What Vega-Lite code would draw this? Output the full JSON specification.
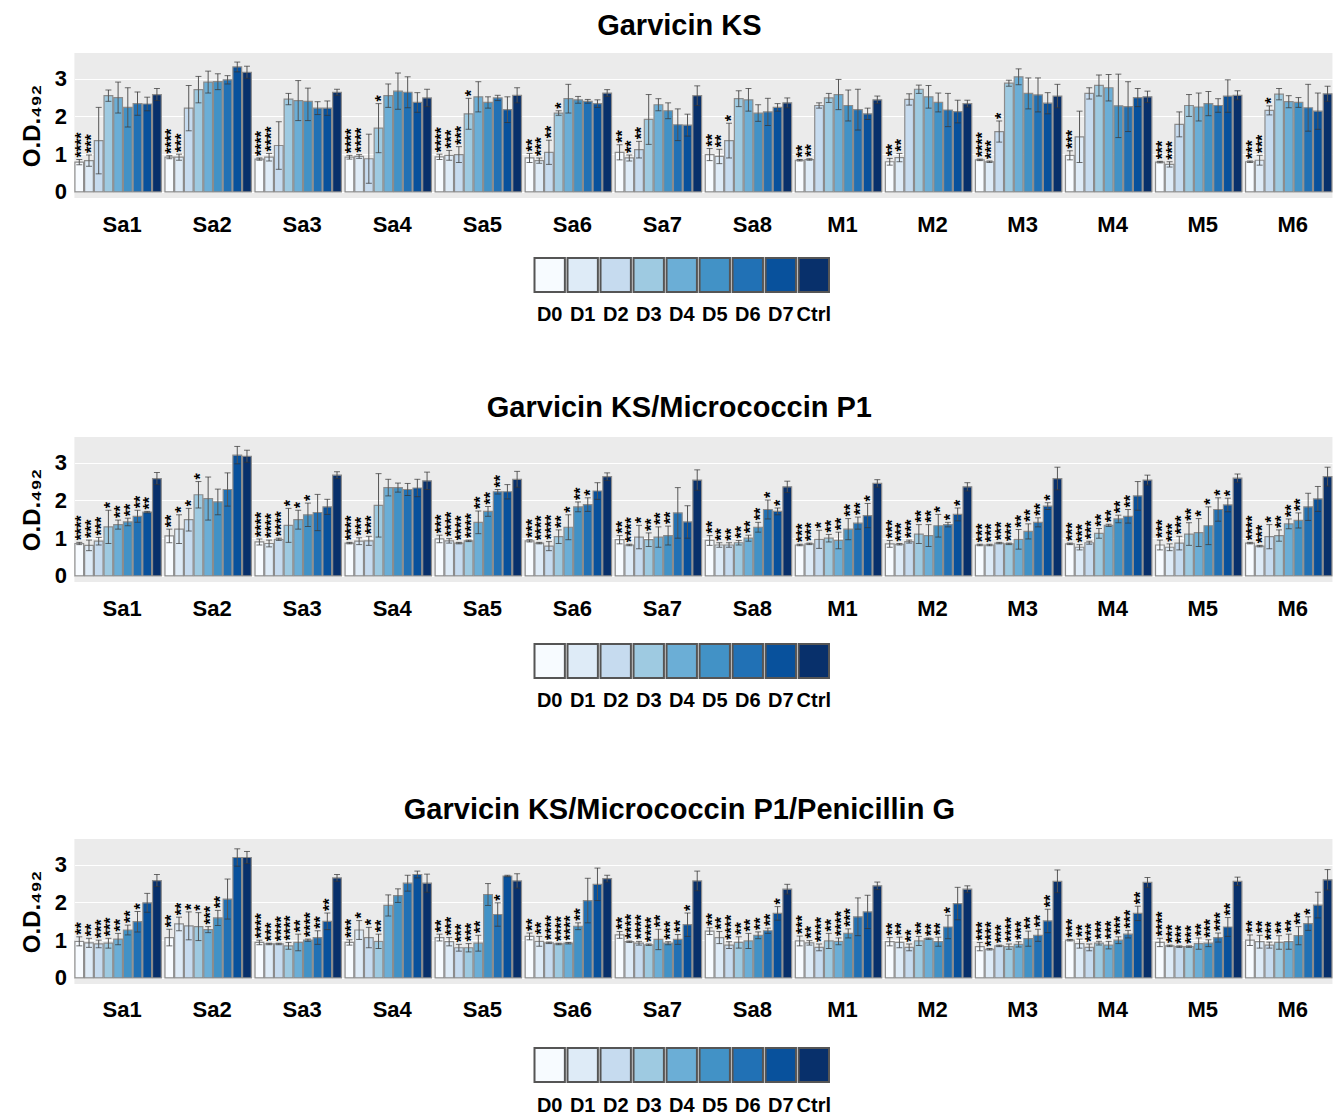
{
  "$schema": "https://vega.github.io/schema/vega-lite/v6.json",
  "padding": {"left": 20, "top": 12, "right": 0, "bottom": 0},
  "background": "#ffffff",
  "config": {
    "font": "Liberation Sans",
    "title": {"fontSize": 29, "fontWeight": "bold", "color": "#000000", "anchor": "middle", "frame": "bounds"},
    "axis": {"labelColor": "#000000", "titleColor": "#000000", "labelFontWeight": "bold", "titleFontWeight": "bold"}
  },
  "datasets": {
    "lg": [{"d":"D0"},{"d":"D1"},{"d":"D2"},{"d":"D3"},{"d":"D4"},{"d":"D5"},{"d":"D6"},{"d":"D7"},{"d":"Ctrl"}],
    "p1": [
      {"g":"Sa1","d":"D0","v":0.79,"lo":0.72,"hi":0.86,"s":"****"},
      {"g":"Sa1","d":"D1","v":0.83,"lo":0.68,"hi":0.98,"s":"***"},
      {"g":"Sa1","d":"D2","v":1.36,"lo":0.48,"hi":2.24,"s":""},
      {"g":"Sa1","d":"D3","v":2.55,"lo":2.40,"hi":2.70,"s":""},
      {"g":"Sa1","d":"D4","v":2.50,"lo":2.09,"hi":2.91,"s":""},
      {"g":"Sa1","d":"D5","v":2.24,"lo":1.72,"hi":2.76,"s":""},
      {"g":"Sa1","d":"D6","v":2.34,"lo":2.03,"hi":2.65,"s":""},
      {"g":"Sa1","d":"D7","v":2.33,"lo":2.15,"hi":2.51,"s":""},
      {"g":"Sa1","d":"Ctrl","v":2.58,"lo":2.42,"hi":2.74,"s":""},
      {"g":"Sa2","d":"D0","v":0.92,"lo":0.88,"hi":0.96,"s":"****"},
      {"g":"Sa2","d":"D1","v":0.92,"lo":0.84,"hi":1.00,"s":"***"},
      {"g":"Sa2","d":"D2","v":2.22,"lo":1.62,"hi":2.82,"s":""},
      {"g":"Sa2","d":"D3","v":2.71,"lo":2.36,"hi":3.06,"s":""},
      {"g":"Sa2","d":"D4","v":2.91,"lo":2.62,"hi":3.20,"s":""},
      {"g":"Sa2","d":"D5","v":2.92,"lo":2.71,"hi":3.13,"s":""},
      {"g":"Sa2","d":"D6","v":2.97,"lo":2.86,"hi":3.08,"s":""},
      {"g":"Sa2","d":"D7","v":3.31,"lo":3.18,"hi":3.44,"s":""},
      {"g":"Sa2","d":"Ctrl","v":3.17,"lo":3.01,"hi":3.33,"s":""},
      {"g":"Sa3","d":"D0","v":0.87,"lo":0.84,"hi":0.90,"s":"****"},
      {"g":"Sa3","d":"D1","v":0.92,"lo":0.82,"hi":1.02,"s":"****"},
      {"g":"Sa3","d":"D2","v":1.23,"lo":0.60,"hi":1.86,"s":""},
      {"g":"Sa3","d":"D3","v":2.46,"lo":2.31,"hi":2.61,"s":""},
      {"g":"Sa3","d":"D4","v":2.42,"lo":1.89,"hi":2.95,"s":""},
      {"g":"Sa3","d":"D5","v":2.40,"lo":1.89,"hi":2.75,"s":""},
      {"g":"Sa3","d":"D6","v":2.22,"lo":2.05,"hi":2.39,"s":""},
      {"g":"Sa3","d":"D7","v":2.22,"lo":2.03,"hi":2.41,"s":""},
      {"g":"Sa3","d":"Ctrl","v":2.64,"lo":2.56,"hi":2.72,"s":""},
      {"g":"Sa4","d":"D0","v":0.92,"lo":0.87,"hi":0.97,"s":"****"},
      {"g":"Sa4","d":"D1","v":0.94,"lo":0.89,"hi":0.99,"s":"****"},
      {"g":"Sa4","d":"D2","v":0.88,"lo":0.23,"hi":1.53,"s":""},
      {"g":"Sa4","d":"D3","v":1.69,"lo":1.04,"hi":2.34,"s":"*"},
      {"g":"Sa4","d":"D4","v":2.55,"lo":2.24,"hi":2.86,"s":""},
      {"g":"Sa4","d":"D5","v":2.67,"lo":2.19,"hi":3.15,"s":""},
      {"g":"Sa4","d":"D6","v":2.64,"lo":2.23,"hi":3.05,"s":""},
      {"g":"Sa4","d":"D7","v":2.37,"lo":2.11,"hi":2.63,"s":""},
      {"g":"Sa4","d":"Ctrl","v":2.49,"lo":2.26,"hi":2.72,"s":""},
      {"g":"Sa5","d":"D0","v":0.93,"lo":0.86,"hi":1.00,"s":"****"},
      {"g":"Sa5","d":"D1","v":0.97,"lo":0.84,"hi":1.10,"s":"***"},
      {"g":"Sa5","d":"D2","v":0.99,"lo":0.78,"hi":1.20,"s":"***"},
      {"g":"Sa5","d":"D3","v":2.07,"lo":1.66,"hi":2.48,"s":"*"},
      {"g":"Sa5","d":"D4","v":2.52,"lo":2.12,"hi":2.92,"s":""},
      {"g":"Sa5","d":"D5","v":2.37,"lo":2.22,"hi":2.52,"s":""},
      {"g":"Sa5","d":"D6","v":2.49,"lo":2.42,"hi":2.56,"s":""},
      {"g":"Sa5","d":"D7","v":2.18,"lo":1.84,"hi":2.52,"s":""},
      {"g":"Sa5","d":"Ctrl","v":2.56,"lo":2.36,"hi":2.76,"s":""},
      {"g":"Sa6","d":"D0","v":0.90,"lo":0.78,"hi":1.02,"s":"**"},
      {"g":"Sa6","d":"D1","v":0.83,"lo":0.76,"hi":0.90,"s":"***"},
      {"g":"Sa6","d":"D2","v":1.05,"lo":0.73,"hi":1.37,"s":"**"},
      {"g":"Sa6","d":"D3","v":2.09,"lo":2.03,"hi":2.15,"s":"*"},
      {"g":"Sa6","d":"D4","v":2.47,"lo":2.09,"hi":2.85,"s":""},
      {"g":"Sa6","d":"D5","v":2.44,"lo":2.35,"hi":2.53,"s":""},
      {"g":"Sa6","d":"D6","v":2.40,"lo":2.35,"hi":2.45,"s":""},
      {"g":"Sa6","d":"D7","v":2.34,"lo":2.24,"hi":2.44,"s":""},
      {"g":"Sa6","d":"Ctrl","v":2.62,"lo":2.53,"hi":2.71,"s":""},
      {"g":"Sa7","d":"D0","v":1.05,"lo":0.85,"hi":1.25,"s":"**"},
      {"g":"Sa7","d":"D1","v":0.90,"lo":0.82,"hi":0.98,"s":"**"},
      {"g":"Sa7","d":"D2","v":1.12,"lo":0.90,"hi":1.34,"s":"**"},
      {"g":"Sa7","d":"D3","v":1.92,"lo":1.26,"hi":2.58,"s":""},
      {"g":"Sa7","d":"D4","v":2.31,"lo":2.15,"hi":2.47,"s":""},
      {"g":"Sa7","d":"D5","v":2.15,"lo":1.94,"hi":2.36,"s":""},
      {"g":"Sa7","d":"D6","v":1.78,"lo":1.36,"hi":2.20,"s":""},
      {"g":"Sa7","d":"D7","v":1.77,"lo":1.48,"hi":2.06,"s":""},
      {"g":"Sa7","d":"Ctrl","v":2.55,"lo":2.29,"hi":2.81,"s":""},
      {"g":"Sa8","d":"D0","v":0.99,"lo":0.83,"hi":1.15,"s":"**"},
      {"g":"Sa8","d":"D1","v":0.94,"lo":0.75,"hi":1.13,"s":"**"},
      {"g":"Sa8","d":"D2","v":1.36,"lo":0.90,"hi":1.82,"s":"*"},
      {"g":"Sa8","d":"D3","v":2.47,"lo":2.26,"hi":2.68,"s":""},
      {"g":"Sa8","d":"D4","v":2.44,"lo":2.14,"hi":2.74,"s":""},
      {"g":"Sa8","d":"D5","v":2.09,"lo":1.87,"hi":2.31,"s":""},
      {"g":"Sa8","d":"D6","v":2.12,"lo":1.76,"hi":2.48,"s":""},
      {"g":"Sa8","d":"D7","v":2.24,"lo":2.14,"hi":2.34,"s":""},
      {"g":"Sa8","d":"Ctrl","v":2.36,"lo":2.23,"hi":2.49,"s":""},
      {"g":"M1","d":"D0","v":0.84,"lo":0.82,"hi":0.86,"s":"**"},
      {"g":"M1","d":"D1","v":0.86,"lo":0.84,"hi":0.88,"s":"**"},
      {"g":"M1","d":"D2","v":2.29,"lo":2.22,"hi":2.36,"s":""},
      {"g":"M1","d":"D3","v":2.49,"lo":2.37,"hi":2.61,"s":""},
      {"g":"M1","d":"D4","v":2.58,"lo":2.18,"hi":2.98,"s":""},
      {"g":"M1","d":"D5","v":2.29,"lo":1.88,"hi":2.70,"s":""},
      {"g":"M1","d":"D6","v":2.18,"lo":1.64,"hi":2.72,"s":""},
      {"g":"M1","d":"D7","v":2.07,"lo":1.92,"hi":2.22,"s":""},
      {"g":"M1","d":"Ctrl","v":2.44,"lo":2.34,"hi":2.54,"s":""},
      {"g":"M2","d":"D0","v":0.80,"lo":0.71,"hi":0.89,"s":"**"},
      {"g":"M2","d":"D1","v":0.91,"lo":0.80,"hi":1.02,"s":"**"},
      {"g":"M2","d":"D2","v":2.45,"lo":2.30,"hi":2.60,"s":""},
      {"g":"M2","d":"D3","v":2.72,"lo":2.61,"hi":2.83,"s":""},
      {"g":"M2","d":"D4","v":2.52,"lo":2.22,"hi":2.82,"s":""},
      {"g":"M2","d":"D5","v":2.37,"lo":2.12,"hi":2.62,"s":""},
      {"g":"M2","d":"D6","v":2.17,"lo":1.73,"hi":2.61,"s":""},
      {"g":"M2","d":"D7","v":2.13,"lo":1.83,"hi":2.43,"s":""},
      {"g":"M2","d":"Ctrl","v":2.34,"lo":2.25,"hi":2.43,"s":""},
      {"g":"M3","d":"D0","v":0.85,"lo":0.83,"hi":0.87,"s":"****"},
      {"g":"M3","d":"D1","v":0.80,"lo":0.78,"hi":0.82,"s":"***"},
      {"g":"M3","d":"D2","v":1.60,"lo":1.32,"hi":1.88,"s":"*"},
      {"g":"M3","d":"D3","v":2.88,"lo":2.80,"hi":2.96,"s":""},
      {"g":"M3","d":"D4","v":3.05,"lo":2.84,"hi":3.26,"s":""},
      {"g":"M3","d":"D5","v":2.61,"lo":2.20,"hi":3.02,"s":""},
      {"g":"M3","d":"D6","v":2.57,"lo":2.12,"hi":3.02,"s":""},
      {"g":"M3","d":"D7","v":2.35,"lo":2.07,"hi":2.63,"s":""},
      {"g":"M3","d":"Ctrl","v":2.54,"lo":2.23,"hi":2.85,"s":""},
      {"g":"M4","d":"D0","v":0.97,"lo":0.85,"hi":1.09,"s":"***"},
      {"g":"M4","d":"D1","v":1.46,"lo":0.78,"hi":2.14,"s":""},
      {"g":"M4","d":"D2","v":2.61,"lo":2.46,"hi":2.76,"s":""},
      {"g":"M4","d":"D3","v":2.82,"lo":2.54,"hi":3.10,"s":""},
      {"g":"M4","d":"D4","v":2.76,"lo":2.41,"hi":3.11,"s":""},
      {"g":"M4","d":"D5","v":2.28,"lo":1.44,"hi":3.12,"s":""},
      {"g":"M4","d":"D6","v":2.26,"lo":1.60,"hi":2.92,"s":""},
      {"g":"M4","d":"D7","v":2.50,"lo":2.26,"hi":2.74,"s":""},
      {"g":"M4","d":"Ctrl","v":2.52,"lo":2.37,"hi":2.67,"s":""},
      {"g":"M5","d":"D0","v":0.79,"lo":0.77,"hi":0.81,"s":"***"},
      {"g":"M5","d":"D1","v":0.73,"lo":0.66,"hi":0.80,"s":"***"},
      {"g":"M5","d":"D2","v":1.79,"lo":1.46,"hi":2.12,"s":""},
      {"g":"M5","d":"D3","v":2.29,"lo":2.00,"hi":2.58,"s":""},
      {"g":"M5","d":"D4","v":2.25,"lo":1.88,"hi":2.62,"s":""},
      {"g":"M5","d":"D5","v":2.34,"lo":2.02,"hi":2.66,"s":""},
      {"g":"M5","d":"D6","v":2.29,"lo":2.11,"hi":2.47,"s":""},
      {"g":"M5","d":"D7","v":2.54,"lo":2.11,"hi":2.97,"s":""},
      {"g":"M5","d":"Ctrl","v":2.56,"lo":2.44,"hi":2.68,"s":""},
      {"g":"M6","d":"D0","v":0.80,"lo":0.78,"hi":0.82,"s":"***"},
      {"g":"M6","d":"D1","v":0.84,"lo":0.71,"hi":0.97,"s":"***"},
      {"g":"M6","d":"D2","v":2.16,"lo":2.04,"hi":2.28,"s":"*"},
      {"g":"M6","d":"D3","v":2.59,"lo":2.44,"hi":2.74,"s":""},
      {"g":"M6","d":"D4","v":2.39,"lo":2.23,"hi":2.55,"s":""},
      {"g":"M6","d":"D5","v":2.37,"lo":2.24,"hi":2.50,"s":""},
      {"g":"M6","d":"D6","v":2.23,"lo":1.61,"hi":2.85,"s":""},
      {"g":"M6","d":"D7","v":2.14,"lo":1.66,"hi":2.62,"s":""},
      {"g":"M6","d":"Ctrl","v":2.60,"lo":2.40,"hi":2.80,"s":""}
    ],
    "p2": [
      {"g":"Sa1","d":"D0","v":0.86,"lo":0.83,"hi":0.89,"s":"****"},
      {"g":"Sa1","d":"D1","v":0.81,"lo":0.67,"hi":0.95,"s":"***"},
      {"g":"Sa1","d":"D2","v":0.92,"lo":0.82,"hi":1.02,"s":"***"},
      {"g":"Sa1","d":"D3","v":1.30,"lo":0.86,"hi":1.74,"s":"*"},
      {"g":"Sa1","d":"D4","v":1.36,"lo":1.24,"hi":1.48,"s":"**"},
      {"g":"Sa1","d":"D5","v":1.43,"lo":1.33,"hi":1.53,"s":"**"},
      {"g":"Sa1","d":"D6","v":1.58,"lo":1.42,"hi":1.74,"s":"**"},
      {"g":"Sa1","d":"D7","v":1.69,"lo":1.67,"hi":1.71,"s":"**"},
      {"g":"Sa1","d":"Ctrl","v":2.58,"lo":2.42,"hi":2.74,"s":""},
      {"g":"Sa2","d":"D0","v":1.06,"lo":0.88,"hi":1.24,"s":"**"},
      {"g":"Sa2","d":"D1","v":1.24,"lo":0.86,"hi":1.62,"s":"*"},
      {"g":"Sa2","d":"D2","v":1.49,"lo":1.19,"hi":1.79,"s":"*"},
      {"g":"Sa2","d":"D3","v":2.15,"lo":1.80,"hi":2.50,"s":"*"},
      {"g":"Sa2","d":"D4","v":2.05,"lo":1.48,"hi":2.62,"s":""},
      {"g":"Sa2","d":"D5","v":1.96,"lo":1.62,"hi":2.30,"s":""},
      {"g":"Sa2","d":"D6","v":2.29,"lo":1.85,"hi":2.73,"s":""},
      {"g":"Sa2","d":"D7","v":3.20,"lo":2.97,"hi":3.43,"s":""},
      {"g":"Sa2","d":"Ctrl","v":3.17,"lo":3.01,"hi":3.33,"s":""},
      {"g":"Sa3","d":"D0","v":0.90,"lo":0.82,"hi":0.98,"s":"****"},
      {"g":"Sa3","d":"D1","v":0.86,"lo":0.77,"hi":0.95,"s":"****"},
      {"g":"Sa3","d":"D2","v":0.97,"lo":0.94,"hi":1.00,"s":"****"},
      {"g":"Sa3","d":"D3","v":1.34,"lo":0.89,"hi":1.79,"s":"*"},
      {"g":"Sa3","d":"D4","v":1.49,"lo":1.24,"hi":1.74,"s":"*"},
      {"g":"Sa3","d":"D5","v":1.62,"lo":1.31,"hi":1.93,"s":"*"},
      {"g":"Sa3","d":"D6","v":1.68,"lo":1.20,"hi":2.16,"s":""},
      {"g":"Sa3","d":"D7","v":1.83,"lo":1.63,"hi":2.03,"s":""},
      {"g":"Sa3","d":"Ctrl","v":2.67,"lo":2.58,"hi":2.76,"s":""},
      {"g":"Sa4","d":"D0","v":0.87,"lo":0.85,"hi":0.89,"s":"****"},
      {"g":"Sa4","d":"D1","v":0.92,"lo":0.83,"hi":1.01,"s":"***"},
      {"g":"Sa4","d":"D2","v":0.93,"lo":0.81,"hi":1.05,"s":"***"},
      {"g":"Sa4","d":"D3","v":1.87,"lo":1.03,"hi":2.71,"s":""},
      {"g":"Sa4","d":"D4","v":2.34,"lo":2.12,"hi":2.56,"s":""},
      {"g":"Sa4","d":"D5","v":2.34,"lo":2.22,"hi":2.46,"s":""},
      {"g":"Sa4","d":"D6","v":2.29,"lo":2.13,"hi":2.45,"s":""},
      {"g":"Sa4","d":"D7","v":2.33,"lo":2.10,"hi":2.56,"s":""},
      {"g":"Sa4","d":"Ctrl","v":2.52,"lo":2.29,"hi":2.75,"s":""},
      {"g":"Sa5","d":"D0","v":0.98,"lo":0.88,"hi":1.08,"s":"***"},
      {"g":"Sa5","d":"D1","v":0.93,"lo":0.87,"hi":0.99,"s":"****"},
      {"g":"Sa5","d":"D2","v":0.87,"lo":0.85,"hi":0.89,"s":"****"},
      {"g":"Sa5","d":"D3","v":0.93,"lo":0.91,"hi":0.95,"s":"****"},
      {"g":"Sa5","d":"D4","v":1.42,"lo":1.12,"hi":1.72,"s":"**"},
      {"g":"Sa5","d":"D5","v":1.71,"lo":1.58,"hi":1.84,"s":"**"},
      {"g":"Sa5","d":"D6","v":2.23,"lo":2.17,"hi":2.29,"s":"**"},
      {"g":"Sa5","d":"D7","v":2.23,"lo":2.04,"hi":2.42,"s":""},
      {"g":"Sa5","d":"Ctrl","v":2.56,"lo":2.35,"hi":2.77,"s":""},
      {"g":"Sa6","d":"D0","v":0.93,"lo":0.90,"hi":0.96,"s":"***"},
      {"g":"Sa6","d":"D1","v":0.87,"lo":0.85,"hi":0.89,"s":"****"},
      {"g":"Sa6","d":"D2","v":0.79,"lo":0.67,"hi":0.91,"s":"****"},
      {"g":"Sa6","d":"D3","v":1.04,"lo":0.86,"hi":1.22,"s":"**"},
      {"g":"Sa6","d":"D4","v":1.29,"lo":0.96,"hi":1.62,"s":"*"},
      {"g":"Sa6","d":"D5","v":1.83,"lo":1.70,"hi":1.96,"s":"**"},
      {"g":"Sa6","d":"D6","v":1.89,"lo":1.71,"hi":2.07,"s":"*"},
      {"g":"Sa6","d":"D7","v":2.25,"lo":2.03,"hi":2.47,"s":""},
      {"g":"Sa6","d":"Ctrl","v":2.63,"lo":2.53,"hi":2.73,"s":""},
      {"g":"Sa7","d":"D0","v":0.96,"lo":0.85,"hi":1.07,"s":"**"},
      {"g":"Sa7","d":"D1","v":0.82,"lo":0.80,"hi":0.84,"s":"****"},
      {"g":"Sa7","d":"D2","v":1.03,"lo":0.72,"hi":1.34,"s":"*"},
      {"g":"Sa7","d":"D3","v":0.96,"lo":0.78,"hi":1.14,"s":"**"},
      {"g":"Sa7","d":"D4","v":1.03,"lo":0.76,"hi":1.30,"s":"**"},
      {"g":"Sa7","d":"D5","v":1.07,"lo":0.82,"hi":1.32,"s":"**"},
      {"g":"Sa7","d":"D6","v":1.67,"lo":1.00,"hi":2.34,"s":""},
      {"g":"Sa7","d":"D7","v":1.43,"lo":1.00,"hi":1.86,"s":""},
      {"g":"Sa7","d":"Ctrl","v":2.54,"lo":2.27,"hi":2.81,"s":""},
      {"g":"Sa8","d":"D0","v":0.94,"lo":0.81,"hi":1.07,"s":"**"},
      {"g":"Sa8","d":"D1","v":0.82,"lo":0.76,"hi":0.88,"s":"**"},
      {"g":"Sa8","d":"D2","v":0.82,"lo":0.76,"hi":0.88,"s":"**"},
      {"g":"Sa8","d":"D3","v":0.88,"lo":0.82,"hi":0.94,"s":"**"},
      {"g":"Sa8","d":"D4","v":1.00,"lo":0.92,"hi":1.08,"s":"**"},
      {"g":"Sa8","d":"D5","v":1.29,"lo":1.16,"hi":1.42,"s":"**"},
      {"g":"Sa8","d":"D6","v":1.76,"lo":1.51,"hi":2.01,"s":"*"},
      {"g":"Sa8","d":"D7","v":1.71,"lo":1.62,"hi":1.80,"s":"*"},
      {"g":"Sa8","d":"Ctrl","v":2.36,"lo":2.21,"hi":2.51,"s":""},
      {"g":"M1","d":"D0","v":0.82,"lo":0.80,"hi":0.84,"s":"***"},
      {"g":"M1","d":"D1","v":0.85,"lo":0.83,"hi":0.87,"s":"***"},
      {"g":"M1","d":"D2","v":0.97,"lo":0.73,"hi":1.21,"s":"*"},
      {"g":"M1","d":"D3","v":1.00,"lo":0.90,"hi":1.10,"s":"**"},
      {"g":"M1","d":"D4","v":0.94,"lo":0.72,"hi":1.16,"s":"**"},
      {"g":"M1","d":"D5","v":1.24,"lo":0.96,"hi":1.52,"s":"**"},
      {"g":"M1","d":"D6","v":1.40,"lo":1.24,"hi":1.56,"s":"**"},
      {"g":"M1","d":"D7","v":1.60,"lo":1.28,"hi":1.92,"s":"*"},
      {"g":"M1","d":"Ctrl","v":2.45,"lo":2.35,"hi":2.55,"s":""},
      {"g":"M2","d":"D0","v":0.85,"lo":0.76,"hi":0.94,"s":"***"},
      {"g":"M2","d":"D1","v":0.84,"lo":0.82,"hi":0.86,"s":"***"},
      {"g":"M2","d":"D2","v":0.91,"lo":0.87,"hi":0.95,"s":"***"},
      {"g":"M2","d":"D3","v":1.11,"lo":0.86,"hi":1.36,"s":"**"},
      {"g":"M2","d":"D4","v":1.07,"lo":0.78,"hi":1.36,"s":"**"},
      {"g":"M2","d":"D5","v":1.33,"lo":1.03,"hi":1.63,"s":"*"},
      {"g":"M2","d":"D6","v":1.36,"lo":1.30,"hi":1.42,"s":"*"},
      {"g":"M2","d":"D7","v":1.63,"lo":1.46,"hi":1.80,"s":"*"},
      {"g":"M2","d":"Ctrl","v":2.36,"lo":2.25,"hi":2.47,"s":""},
      {"g":"M3","d":"D0","v":0.82,"lo":0.80,"hi":0.84,"s":"***"},
      {"g":"M3","d":"D1","v":0.82,"lo":0.80,"hi":0.84,"s":"***"},
      {"g":"M3","d":"D2","v":0.87,"lo":0.85,"hi":0.89,"s":"***"},
      {"g":"M3","d":"D3","v":0.85,"lo":0.83,"hi":0.87,"s":"***"},
      {"g":"M3","d":"D4","v":0.97,"lo":0.71,"hi":1.23,"s":"**"},
      {"g":"M3","d":"D5","v":1.18,"lo":0.98,"hi":1.38,"s":"**"},
      {"g":"M3","d":"D6","v":1.42,"lo":1.30,"hi":1.54,"s":"**"},
      {"g":"M3","d":"D7","v":1.85,"lo":1.76,"hi":1.94,"s":"*"},
      {"g":"M3","d":"Ctrl","v":2.58,"lo":2.28,"hi":2.88,"s":""},
      {"g":"M4","d":"D0","v":0.85,"lo":0.83,"hi":0.87,"s":"***"},
      {"g":"M4","d":"D1","v":0.76,"lo":0.69,"hi":0.83,"s":"***"},
      {"g":"M4","d":"D2","v":0.88,"lo":0.84,"hi":0.92,"s":"***"},
      {"g":"M4","d":"D3","v":1.13,"lo":1.00,"hi":1.26,"s":"**"},
      {"g":"M4","d":"D4","v":1.34,"lo":1.31,"hi":1.37,"s":"**"},
      {"g":"M4","d":"D5","v":1.51,"lo":1.41,"hi":1.61,"s":"**"},
      {"g":"M4","d":"D6","v":1.58,"lo":1.40,"hi":1.76,"s":"**"},
      {"g":"M4","d":"D7","v":2.12,"lo":1.74,"hi":2.50,"s":""},
      {"g":"M4","d":"Ctrl","v":2.54,"lo":2.41,"hi":2.67,"s":""},
      {"g":"M5","d":"D0","v":0.82,"lo":0.69,"hi":0.95,"s":"***"},
      {"g":"M5","d":"D1","v":0.76,"lo":0.67,"hi":0.85,"s":"***"},
      {"g":"M5","d":"D2","v":0.87,"lo":0.69,"hi":1.05,"s":"***"},
      {"g":"M5","d":"D3","v":1.11,"lo":0.81,"hi":1.41,"s":"**"},
      {"g":"M5","d":"D4","v":1.15,"lo":0.78,"hi":1.52,"s":"*"},
      {"g":"M5","d":"D5","v":1.33,"lo":0.83,"hi":1.83,"s":"*"},
      {"g":"M5","d":"D6","v":1.76,"lo":1.45,"hi":2.07,"s":"*"},
      {"g":"M5","d":"D7","v":1.88,"lo":1.70,"hi":2.06,"s":"*"},
      {"g":"M5","d":"Ctrl","v":2.59,"lo":2.48,"hi":2.70,"s":""},
      {"g":"M6","d":"D0","v":0.87,"lo":0.85,"hi":0.89,"s":"****"},
      {"g":"M6","d":"D1","v":0.79,"lo":0.77,"hi":0.81,"s":"***"},
      {"g":"M6","d":"D2","v":1.04,"lo":0.72,"hi":1.36,"s":"*"},
      {"g":"M6","d":"D3","v":1.07,"lo":0.92,"hi":1.22,"s":"**"},
      {"g":"M6","d":"D4","v":1.38,"lo":1.25,"hi":1.51,"s":"**"},
      {"g":"M6","d":"D5","v":1.47,"lo":1.27,"hi":1.67,"s":"**"},
      {"g":"M6","d":"D6","v":1.83,"lo":1.47,"hi":2.19,"s":""},
      {"g":"M6","d":"D7","v":2.04,"lo":1.71,"hi":2.37,"s":""},
      {"g":"M6","d":"Ctrl","v":2.63,"lo":2.38,"hi":2.88,"s":""}
    ],
    "p3": [
      {"g":"Sa1","d":"D0","v":0.97,"lo":0.85,"hi":1.09,"s":"**"},
      {"g":"Sa1","d":"D1","v":0.93,"lo":0.81,"hi":1.05,"s":"**"},
      {"g":"Sa1","d":"D2","v":0.90,"lo":0.80,"hi":1.00,"s":"***"},
      {"g":"Sa1","d":"D3","v":0.92,"lo":0.79,"hi":1.05,"s":"***"},
      {"g":"Sa1","d":"D4","v":1.03,"lo":0.88,"hi":1.18,"s":"**"},
      {"g":"Sa1","d":"D5","v":1.27,"lo":1.14,"hi":1.40,"s":"**"},
      {"g":"Sa1","d":"D6","v":1.49,"lo":1.22,"hi":1.76,"s":"*"},
      {"g":"Sa1","d":"D7","v":1.99,"lo":1.74,"hi":2.24,"s":""},
      {"g":"Sa1","d":"Ctrl","v":2.58,"lo":2.42,"hi":2.74,"s":""},
      {"g":"Sa2","d":"D0","v":1.07,"lo":0.85,"hi":1.29,"s":"**"},
      {"g":"Sa2","d":"D1","v":1.43,"lo":1.25,"hi":1.61,"s":"**"},
      {"g":"Sa2","d":"D2","v":1.38,"lo":1.01,"hi":1.75,"s":"*"},
      {"g":"Sa2","d":"D3","v":1.36,"lo":0.99,"hi":1.73,"s":"*"},
      {"g":"Sa2","d":"D4","v":1.28,"lo":1.20,"hi":1.36,"s":"***"},
      {"g":"Sa2","d":"D5","v":1.59,"lo":1.39,"hi":1.79,"s":"**"},
      {"g":"Sa2","d":"D6","v":2.09,"lo":1.56,"hi":2.62,"s":""},
      {"g":"Sa2","d":"D7","v":3.19,"lo":2.96,"hi":3.42,"s":""},
      {"g":"Sa2","d":"Ctrl","v":3.19,"lo":3.03,"hi":3.35,"s":""},
      {"g":"Sa3","d":"D0","v":0.94,"lo":0.88,"hi":1.00,"s":"****"},
      {"g":"Sa3","d":"D1","v":0.90,"lo":0.88,"hi":0.92,"s":"***"},
      {"g":"Sa3","d":"D2","v":0.90,"lo":0.88,"hi":0.92,"s":"****"},
      {"g":"Sa3","d":"D3","v":0.85,"lo":0.76,"hi":0.94,"s":"****"},
      {"g":"Sa3","d":"D4","v":0.94,"lo":0.72,"hi":1.16,"s":"**"},
      {"g":"Sa3","d":"D5","v":1.00,"lo":0.97,"hi":1.03,"s":"****"},
      {"g":"Sa3","d":"D6","v":1.07,"lo":0.89,"hi":1.25,"s":"**"},
      {"g":"Sa3","d":"D7","v":1.50,"lo":1.28,"hi":1.72,"s":"**"},
      {"g":"Sa3","d":"Ctrl","v":2.65,"lo":2.56,"hi":2.74,"s":""},
      {"g":"Sa4","d":"D0","v":0.94,"lo":0.87,"hi":1.01,"s":"***"},
      {"g":"Sa4","d":"D1","v":1.27,"lo":1.02,"hi":1.52,"s":"*"},
      {"g":"Sa4","d":"D2","v":1.07,"lo":0.80,"hi":1.34,"s":"*"},
      {"g":"Sa4","d":"D3","v":0.97,"lo":0.78,"hi":1.16,"s":"**"},
      {"g":"Sa4","d":"D4","v":1.92,"lo":1.64,"hi":2.20,"s":""},
      {"g":"Sa4","d":"D5","v":2.18,"lo":2.00,"hi":2.36,"s":""},
      {"g":"Sa4","d":"D6","v":2.51,"lo":2.30,"hi":2.72,"s":""},
      {"g":"Sa4","d":"D7","v":2.74,"lo":2.65,"hi":2.83,"s":""},
      {"g":"Sa4","d":"Ctrl","v":2.51,"lo":2.27,"hi":2.75,"s":""},
      {"g":"Sa5","d":"D0","v":1.07,"lo":0.98,"hi":1.16,"s":"**"},
      {"g":"Sa5","d":"D1","v":0.96,"lo":0.85,"hi":1.07,"s":"***"},
      {"g":"Sa5","d":"D2","v":0.80,"lo":0.71,"hi":0.89,"s":"***"},
      {"g":"Sa5","d":"D3","v":0.80,"lo":0.69,"hi":0.91,"s":"***"},
      {"g":"Sa5","d":"D4","v":0.92,"lo":0.71,"hi":1.13,"s":"**"},
      {"g":"Sa5","d":"D5","v":2.21,"lo":1.92,"hi":2.50,"s":""},
      {"g":"Sa5","d":"D6","v":1.68,"lo":1.37,"hi":1.99,"s":"*"},
      {"g":"Sa5","d":"D7","v":2.70,"lo":2.68,"hi":2.72,"s":""},
      {"g":"Sa5","d":"Ctrl","v":2.57,"lo":2.38,"hi":2.76,"s":""},
      {"g":"Sa6","d":"D0","v":1.10,"lo":1.01,"hi":1.19,"s":"**"},
      {"g":"Sa6","d":"D1","v":0.97,"lo":0.84,"hi":1.10,"s":"**"},
      {"g":"Sa6","d":"D2","v":0.93,"lo":0.91,"hi":0.95,"s":"****"},
      {"g":"Sa6","d":"D3","v":0.90,"lo":0.88,"hi":0.92,"s":"****"},
      {"g":"Sa6","d":"D4","v":0.92,"lo":0.90,"hi":0.94,"s":"****"},
      {"g":"Sa6","d":"D5","v":1.37,"lo":1.28,"hi":1.46,"s":"**"},
      {"g":"Sa6","d":"D6","v":2.05,"lo":1.46,"hi":2.64,"s":""},
      {"g":"Sa6","d":"D7","v":2.48,"lo":2.05,"hi":2.91,"s":""},
      {"g":"Sa6","d":"Ctrl","v":2.63,"lo":2.54,"hi":2.72,"s":""},
      {"g":"Sa7","d":"D0","v":1.14,"lo":1.05,"hi":1.23,"s":"**"},
      {"g":"Sa7","d":"D1","v":0.96,"lo":0.94,"hi":0.98,"s":"****"},
      {"g":"Sa7","d":"D2","v":0.92,"lo":0.87,"hi":0.97,"s":"****"},
      {"g":"Sa7","d":"D3","v":0.88,"lo":0.86,"hi":0.90,"s":"****"},
      {"g":"Sa7","d":"D4","v":1.02,"lo":0.75,"hi":1.29,"s":"**"},
      {"g":"Sa7","d":"D5","v":0.92,"lo":0.88,"hi":0.96,"s":"***"},
      {"g":"Sa7","d":"D6","v":1.02,"lo":0.89,"hi":1.15,"s":"**"},
      {"g":"Sa7","d":"D7","v":1.41,"lo":1.10,"hi":1.72,"s":"*"},
      {"g":"Sa7","d":"Ctrl","v":2.57,"lo":2.31,"hi":2.83,"s":""},
      {"g":"Sa8","d":"D0","v":1.24,"lo":1.15,"hi":1.33,"s":"**"},
      {"g":"Sa8","d":"D1","v":1.07,"lo":0.91,"hi":1.23,"s":"**"},
      {"g":"Sa8","d":"D2","v":0.87,"lo":0.78,"hi":0.96,"s":"****"},
      {"g":"Sa8","d":"D3","v":0.94,"lo":0.79,"hi":1.09,"s":"**"},
      {"g":"Sa8","d":"D4","v":0.98,"lo":0.78,"hi":1.18,"s":"**"},
      {"g":"Sa8","d":"D5","v":1.13,"lo":1.04,"hi":1.22,"s":"**"},
      {"g":"Sa8","d":"D6","v":1.25,"lo":1.18,"hi":1.32,"s":"**"},
      {"g":"Sa8","d":"D7","v":1.71,"lo":1.53,"hi":1.89,"s":"*"},
      {"g":"Sa8","d":"Ctrl","v":2.35,"lo":2.22,"hi":2.48,"s":""},
      {"g":"M1","d":"D0","v":0.98,"lo":0.85,"hi":1.11,"s":"***"},
      {"g":"M1","d":"D1","v":0.93,"lo":0.87,"hi":0.99,"s":"**"},
      {"g":"M1","d":"D2","v":0.81,"lo":0.72,"hi":0.90,"s":"****"},
      {"g":"M1","d":"D3","v":0.98,"lo":0.78,"hi":1.18,"s":"**"},
      {"g":"M1","d":"D4","v":0.97,"lo":0.88,"hi":1.06,"s":"****"},
      {"g":"M1","d":"D5","v":1.18,"lo":1.06,"hi":1.30,"s":"***"},
      {"g":"M1","d":"D6","v":1.62,"lo":1.12,"hi":2.12,"s":""},
      {"g":"M1","d":"D7","v":1.75,"lo":1.31,"hi":2.19,"s":""},
      {"g":"M1","d":"Ctrl","v":2.44,"lo":2.34,"hi":2.54,"s":""},
      {"g":"M2","d":"D0","v":0.96,"lo":0.85,"hi":1.07,"s":"**"},
      {"g":"M2","d":"D1","v":0.94,"lo":0.80,"hi":1.08,"s":"**"},
      {"g":"M2","d":"D2","v":0.81,"lo":0.72,"hi":0.90,"s":"**"},
      {"g":"M2","d":"D3","v":0.98,"lo":0.86,"hi":1.10,"s":"**"},
      {"g":"M2","d":"D4","v":1.04,"lo":1.02,"hi":1.06,"s":"**"},
      {"g":"M2","d":"D5","v":0.96,"lo":0.84,"hi":1.08,"s":"**"},
      {"g":"M2","d":"D6","v":1.35,"lo":1.04,"hi":1.66,"s":"*"},
      {"g":"M2","d":"D7","v":1.97,"lo":1.54,"hi":2.40,"s":""},
      {"g":"M2","d":"Ctrl","v":2.35,"lo":2.26,"hi":2.44,"s":""},
      {"g":"M3","d":"D0","v":0.83,"lo":0.72,"hi":0.94,"s":"***"},
      {"g":"M3","d":"D1","v":0.76,"lo":0.74,"hi":0.78,"s":"****"},
      {"g":"M3","d":"D2","v":0.85,"lo":0.83,"hi":0.87,"s":"***"},
      {"g":"M3","d":"D3","v":0.83,"lo":0.76,"hi":0.90,"s":"****"},
      {"g":"M3","d":"D4","v":0.89,"lo":0.82,"hi":0.96,"s":"***"},
      {"g":"M3","d":"D5","v":1.04,"lo":0.84,"hi":1.24,"s":"**"},
      {"g":"M3","d":"D6","v":1.13,"lo":0.97,"hi":1.29,"s":"**"},
      {"g":"M3","d":"D7","v":1.51,"lo":1.20,"hi":1.82,"s":"**"},
      {"g":"M3","d":"Ctrl","v":2.56,"lo":2.26,"hi":2.86,"s":""},
      {"g":"M4","d":"D0","v":1.00,"lo":0.98,"hi":1.02,"s":"***"},
      {"g":"M4","d":"D1","v":0.91,"lo":0.79,"hi":1.03,"s":"**"},
      {"g":"M4","d":"D2","v":0.81,"lo":0.72,"hi":0.90,"s":"***"},
      {"g":"M4","d":"D3","v":0.92,"lo":0.87,"hi":0.97,"s":"***"},
      {"g":"M4","d":"D4","v":0.87,"lo":0.77,"hi":0.97,"s":"***"},
      {"g":"M4","d":"D5","v":1.00,"lo":0.91,"hi":1.09,"s":"***"},
      {"g":"M4","d":"D6","v":1.16,"lo":1.06,"hi":1.26,"s":"***"},
      {"g":"M4","d":"D7","v":1.71,"lo":1.52,"hi":1.90,"s":"**"},
      {"g":"M4","d":"Ctrl","v":2.53,"lo":2.40,"hi":2.66,"s":""},
      {"g":"M5","d":"D0","v":0.94,"lo":0.83,"hi":1.05,"s":"****"},
      {"g":"M5","d":"D1","v":0.85,"lo":0.83,"hi":0.87,"s":"***"},
      {"g":"M5","d":"D2","v":0.83,"lo":0.81,"hi":0.85,"s":"***"},
      {"g":"M5","d":"D3","v":0.83,"lo":0.81,"hi":0.85,"s":"***"},
      {"g":"M5","d":"D4","v":0.91,"lo":0.76,"hi":1.06,"s":"**"},
      {"g":"M5","d":"D5","v":0.92,"lo":0.83,"hi":1.01,"s":"***"},
      {"g":"M5","d":"D6","v":1.07,"lo":0.95,"hi":1.19,"s":"***"},
      {"g":"M5","d":"D7","v":1.35,"lo":1.10,"hi":1.60,"s":"**"},
      {"g":"M5","d":"Ctrl","v":2.56,"lo":2.45,"hi":2.67,"s":""},
      {"g":"M6","d":"D0","v":1.00,"lo":0.86,"hi":1.14,"s":"**"},
      {"g":"M6","d":"D1","v":0.96,"lo":0.79,"hi":1.13,"s":"**"},
      {"g":"M6","d":"D2","v":0.87,"lo":0.79,"hi":0.95,"s":"***"},
      {"g":"M6","d":"D3","v":0.94,"lo":0.76,"hi":1.12,"s":"**"},
      {"g":"M6","d":"D4","v":0.96,"lo":0.76,"hi":1.16,"s":"**"},
      {"g":"M6","d":"D5","v":1.12,"lo":0.88,"hi":1.36,"s":"**"},
      {"g":"M6","d":"D6","v":1.44,"lo":1.26,"hi":1.62,"s":"*"},
      {"g":"M6","d":"D7","v":1.93,"lo":1.59,"hi":2.27,"s":""},
      {"g":"M6","d":"Ctrl","v":2.60,"lo":2.33,"hi":2.87,"s":""}
    ]
  },
  "vconcat": [
    {
      "vconcat": [
        {
          "title": {"text": "Garvicin KS", "offset": 12},
          "data": {"name": "p1"},
          "width": 1258, "height": 145,
          "view": {"fill": "#ebebeb", "stroke": null},
          "encoding": {
            "x": {"field": "g", "type": "nominal", "title": null, "sort": ["Sa1","Sa2","Sa3","Sa4","Sa5","Sa6","Sa7","Sa8","M1","M2","M3","M4","M5","M6"], "scale": {"paddingInner": 0.03, "paddingOuter": 0}, "axis": {"labelAngle": 0, "labelFontSize": 22, "ticks": false, "domain": false, "labelPadding": 16, "labelOffset": 4, "grid": false}},
            "xOffset": {"field": "d", "type": "nominal", "sort": ["D0","D1","D2","D3","D4","D5","D6","D7","Ctrl"], "scale": {"paddingInner": 0.1, "paddingOuter": 0.05}}
          },
          "layer": [
            {"mark": {"type": "bar", "stroke": "#8c8c8c", "strokeWidth": 1.2},
             "encoding": {
               "y": {"field": "v", "type": "quantitative", "title": "O.D.₄₉₂", "scale": {"domain": [-0.16, 3.68], "nice": false, "zero": false}, "axis": {"values": [0,1,2,3], "labelFontSize": 22, "ticks": false, "domain": false, "labelPadding": 8, "titleFontSize": 24, "titlePadding": 10, "gridColor": "#ffffff", "gridWidth": 1.2}},
               "y2": {"datum": 0},
               "color": {"field": "d", "type": "nominal", "scale": {"domain": ["D0","D1","D2","D3","D4","D5","D6","D7","Ctrl"], "range": ["#f7fbff","#deebf7","#c6dbef","#9ecae1","#6baed6","#4292c6","#2171b5","#08519c","#08306b"]}, "legend": null}
             }},
            {"mark": {"type": "rule", "color": "#555555", "strokeWidth": 1}, "encoding": {"y": {"field": "lo", "type": "quantitative", "title": "O.D.₄₉₂"}, "y2": {"field": "hi"}}},
            {"mark": {"type": "tick", "color": "#333333", "thickness": 1, "size": 6}, "encoding": {"y": {"field": "hi", "type": "quantitative", "title": "O.D.₄₉₂"}}},
            {"mark": {"type": "tick", "color": "#333333", "thickness": 1, "size": 6}, "encoding": {"y": {"field": "lo", "type": "quantitative", "title": "O.D.₄₉₂"}}},
            {"mark": {"type": "text", "angle": 270, "align": "left", "baseline": "middle", "dx": 2, "dy": 3, "fontSize": 16, "fontWeight": "bold", "color": "#000000"}, "encoding": {"y": {"field": "hi", "type": "quantitative", "title": "O.D.₄₉₂"}, "text": {"field": "s", "type": "nominal"}}}
          ]
        },
        {
          "data": {"name": "lg"},
          "width": 344, "height": 34,
          "view": {"stroke": null},
          "mark": {"type": "bar", "stroke": "#555555", "strokeWidth": 2},
          "encoding": {
            "x": {"field": "d", "type": "nominal", "title": null, "sort": ["D0","D1","D2","D3","D4","D5","D6","D7","Ctrl"], "scale": {"paddingInner": 0.08, "paddingOuter": 0.75, "align": 0}, "axis": {"labelAngle": 0, "labelFontSize": 20, "ticks": false, "domain": false, "labelPadding": 12, "grid": false}},
            "color": {"field": "d", "type": "nominal", "scale": {"domain": ["D0","D1","D2","D3","D4","D5","D6","D7","Ctrl"], "range": ["#f7fbff","#deebf7","#c6dbef","#9ecae1","#6baed6","#4292c6","#2171b5","#08519c","#08306b"]}, "legend": null}
          }
        }
      ],
      "spacing": 22,
      "center": true
    },
    {
      "vconcat": [
        {
          "title": {"text": "Garvicin KS/Micrococcin P1", "offset": 14},
          "data": {"name": "p2"},
          "width": 1258, "height": 145,
          "view": {"fill": "#ebebeb", "stroke": null},
          "encoding": {
            "x": {"field": "g", "type": "nominal", "title": null, "sort": ["Sa1","Sa2","Sa3","Sa4","Sa5","Sa6","Sa7","Sa8","M1","M2","M3","M4","M5","M6"], "scale": {"paddingInner": 0.03, "paddingOuter": 0}, "axis": {"labelAngle": 0, "labelFontSize": 22, "ticks": false, "domain": false, "labelPadding": 16, "labelOffset": 4, "grid": false}},
            "xOffset": {"field": "d", "type": "nominal", "sort": ["D0","D1","D2","D3","D4","D5","D6","D7","Ctrl"], "scale": {"paddingInner": 0.1, "paddingOuter": 0.05}}
          },
          "layer": [
            {"mark": {"type": "bar", "stroke": "#8c8c8c", "strokeWidth": 1.2},
             "encoding": {
               "y": {"field": "v", "type": "quantitative", "title": "O.D.₄₉₂", "scale": {"domain": [-0.16, 3.68], "nice": false, "zero": false}, "axis": {"values": [0,1,2,3], "labelFontSize": 22, "ticks": false, "domain": false, "labelPadding": 8, "titleFontSize": 24, "titlePadding": 10, "gridColor": "#ffffff", "gridWidth": 1.2}},
               "y2": {"datum": 0},
               "color": {"field": "d", "type": "nominal", "scale": {"domain": ["D0","D1","D2","D3","D4","D5","D6","D7","Ctrl"], "range": ["#f7fbff","#deebf7","#c6dbef","#9ecae1","#6baed6","#4292c6","#2171b5","#08519c","#08306b"]}, "legend": null}
             }},
            {"mark": {"type": "rule", "color": "#555555", "strokeWidth": 1}, "encoding": {"y": {"field": "lo", "type": "quantitative", "title": "O.D.₄₉₂"}, "y2": {"field": "hi"}}},
            {"mark": {"type": "tick", "color": "#333333", "thickness": 1, "size": 6}, "encoding": {"y": {"field": "hi", "type": "quantitative", "title": "O.D.₄₉₂"}}},
            {"mark": {"type": "tick", "color": "#333333", "thickness": 1, "size": 6}, "encoding": {"y": {"field": "lo", "type": "quantitative", "title": "O.D.₄₉₂"}}},
            {"mark": {"type": "text", "angle": 270, "align": "left", "baseline": "middle", "dx": 2, "dy": 3, "fontSize": 16, "fontWeight": "bold", "color": "#000000"}, "encoding": {"y": {"field": "hi", "type": "quantitative", "title": "O.D.₄₉₂"}, "text": {"field": "s", "type": "nominal"}}}
          ]
        },
        {
          "data": {"name": "lg"},
          "width": 344, "height": 34,
          "view": {"stroke": null},
          "mark": {"type": "bar", "stroke": "#555555", "strokeWidth": 2},
          "encoding": {
            "x": {"field": "d", "type": "nominal", "sort": ["D0","D1","D2","D3","D4","D5","D6","D7","Ctrl"], "scale": {"paddingInner": 0.08, "paddingOuter": 0.75, "align": 0}, "axis": {"labelAngle": 0, "labelFontSize": 20, "ticks": false, "domain": false, "labelPadding": 12, "grid": false, "title": " ", "titleFontSize": 14, "titlePadding": 2}},
            "color": {"field": "d", "type": "nominal", "scale": {"domain": ["D0","D1","D2","D3","D4","D5","D6","D7","Ctrl"], "range": ["#f7fbff","#deebf7","#c6dbef","#9ecae1","#6baed6","#4292c6","#2171b5","#08519c","#08306b"]}, "legend": null}
          }
        }
      ],
      "spacing": 24,
      "center": true
    },
    {
      "vconcat": [
        {
          "title": {"text": "Garvicin KS/Micrococcin P1/Penicillin G", "offset": 14},
          "data": {"name": "p3"},
          "width": 1258, "height": 145,
          "view": {"fill": "#ebebeb", "stroke": null},
          "encoding": {
            "x": {"field": "g", "type": "nominal", "title": null, "sort": ["Sa1","Sa2","Sa3","Sa4","Sa5","Sa6","Sa7","Sa8","M1","M2","M3","M4","M5","M6"], "scale": {"paddingInner": 0.03, "paddingOuter": 0}, "axis": {"labelAngle": 0, "labelFontSize": 22, "ticks": false, "domain": false, "labelPadding": 15, "labelOffset": 4, "grid": false}},
            "xOffset": {"field": "d", "type": "nominal", "sort": ["D0","D1","D2","D3","D4","D5","D6","D7","Ctrl"], "scale": {"paddingInner": 0.1, "paddingOuter": 0.05}}
          },
          "layer": [
            {"mark": {"type": "bar", "stroke": "#8c8c8c", "strokeWidth": 1.2},
             "encoding": {
               "y": {"field": "v", "type": "quantitative", "title": "O.D.₄₉₂", "scale": {"domain": [-0.16, 3.68], "nice": false, "zero": false}, "axis": {"values": [0,1,2,3], "labelFontSize": 22, "ticks": false, "domain": false, "labelPadding": 8, "titleFontSize": 24, "titlePadding": 10, "gridColor": "#ffffff", "gridWidth": 1.2}},
               "y2": {"datum": 0},
               "color": {"field": "d", "type": "nominal", "scale": {"domain": ["D0","D1","D2","D3","D4","D5","D6","D7","Ctrl"], "range": ["#f7fbff","#deebf7","#c6dbef","#9ecae1","#6baed6","#4292c6","#2171b5","#08519c","#08306b"]}, "legend": null}
             }},
            {"mark": {"type": "rule", "color": "#555555", "strokeWidth": 1}, "encoding": {"y": {"field": "lo", "type": "quantitative", "title": "O.D.₄₉₂"}, "y2": {"field": "hi"}}},
            {"mark": {"type": "tick", "color": "#333333", "thickness": 1, "size": 6}, "encoding": {"y": {"field": "hi", "type": "quantitative", "title": "O.D.₄₉₂"}}},
            {"mark": {"type": "tick", "color": "#333333", "thickness": 1, "size": 6}, "encoding": {"y": {"field": "lo", "type": "quantitative", "title": "O.D.₄₉₂"}}},
            {"mark": {"type": "text", "angle": 270, "align": "left", "baseline": "middle", "dx": 2, "dy": 3, "fontSize": 16, "fontWeight": "bold", "color": "#000000"}, "encoding": {"y": {"field": "hi", "type": "quantitative", "title": "O.D.₄₉₂"}, "text": {"field": "s", "type": "nominal"}}}
          ]
        },
        {
          "data": {"name": "lg"},
          "width": 344, "height": 34,
          "view": {"stroke": null},
          "mark": {"type": "bar", "stroke": "#555555", "strokeWidth": 2},
          "encoding": {
            "x": {"field": "d", "type": "nominal", "title": null, "sort": ["D0","D1","D2","D3","D4","D5","D6","D7","Ctrl"], "scale": {"paddingInner": 0.08, "paddingOuter": 0.75, "align": 0}, "axis": {"labelAngle": 0, "labelFontSize": 20, "ticks": false, "domain": false, "labelPadding": 13, "grid": false}},
            "color": {"field": "d", "type": "nominal", "scale": {"domain": ["D0","D1","D2","D3","D4","D5","D6","D7","Ctrl"], "range": ["#f7fbff","#deebf7","#c6dbef","#9ecae1","#6baed6","#4292c6","#2171b5","#08519c","#08306b"]}, "legend": null}
          }
        }
      ],
      "spacing": 27,
      "center": true
    }
  ],
  "spacing": 70
}
